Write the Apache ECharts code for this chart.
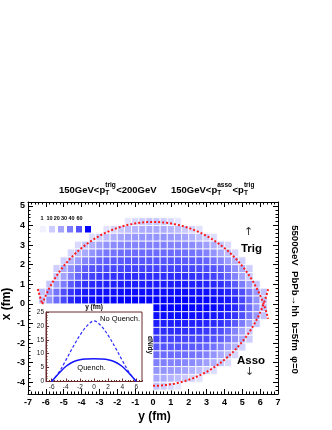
<!DOCTYPE html>
<html>
<head>
<meta charset="utf-8">
<script src="https://cdn.jsdelivr.net/npm/echarts@6/dist/echarts.min.js"></script>
<style>
html,body{margin:0;padding:0;background:#fff;}
#main{width:332px;height:430px;}
</style>
</head>
<body>
<div id="main"></div>
<script>
// 2D histogram, 0.4 fm bins
var binW = 0.4;
var upperYStart = -6.4;   // left edge of first column, upper half
var lowerYStart = 0;      // left edge of first column, lower half
var upperXTop = 4.4;      // top edge of first upper row
var lowerXTop = 0;        // top edge of first lower row

// rows top -> bottom (x from 4.4 down to 0), columns y = -6.4 .. 6.4
var heatUpper = [
    [0,0,0,0,0,0,0,0,0,0,0,0,4,7,10,12,12,10,7,4,0,0,0,0,0,0,0,0,0,0,0,0],
    [0,0,0,0,0,0,0,0,0,5,8,11,14,16,18,19,19,18,16,14,11,8,5,0,0,0,0,0,0,0,0,0],
    [0,0,0,0,0,0,0,6,10,14,17,20,22,23,24,24,24,24,23,22,20,17,14,10,6,0,0,0,0,0,0,0],
    [0,0,0,0,0,7,12,17,21,24,26,27,28,28,29,29,29,29,28,28,27,26,24,21,17,12,7,0,0,0,0,0],
    [0,0,0,0,8,14,19,24,28,31,32,33,33,34,34,34,34,34,34,33,33,32,31,28,24,19,14,8,0,0,0,0],
    [0,0,0,9,16,22,28,32,35,37,38,38,39,39,39,39,39,39,39,39,38,38,37,35,32,28,22,16,9,0,0,0],
    [0,0,10,18,25,32,37,40,41,42,43,43,44,44,44,44,44,44,44,44,43,43,42,41,40,37,32,25,18,10,0,0],
    [0,0,11,20,28,35,41,44,46,47,48,48,49,49,49,49,49,49,49,49,48,48,47,46,44,41,35,28,20,11,0,0],
    [0,12,21,30,38,44,48,50,51,52,52,53,53,53,53,53,53,53,53,53,53,52,52,51,50,48,44,38,30,21,12,0],
    [13,23,32,41,47,51,54,55,56,56,56,57,57,57,57,57,57,57,57,57,57,56,56,56,55,54,51,47,41,32,23,13],
    [13,24,34,43,50,54,56,58,59,59,59,60,60,60,60,60,60,60,60,60,60,59,59,59,58,56,54,50,43,34,24,13]
];
// rows top -> bottom (x from 0 down to -4.4), columns y = 0 .. 6.4
var heatLower = [
    [60,60,60,60,60,59,59,59,58,56,54,50,43,34,24,13],
    [57,57,57,57,57,56,56,56,55,54,51,47,41,32,23,13],
    [53,53,53,53,53,52,52,51,50,48,44,38,30,21,12,0],
    [49,49,49,49,48,48,47,46,44,41,35,28,20,11,0,0],
    [44,44,44,44,43,43,42,41,40,37,32,25,18,10,0,0],
    [39,39,39,39,38,38,37,35,32,28,22,16,9,0,0,0],
    [34,34,34,33,33,32,31,28,24,19,14,8,0,0,0,0],
    [29,29,28,28,27,26,24,21,17,12,7,0,0,0,0,0],
    [24,24,23,22,20,17,14,10,6,0,0,0,0,0,0,0],
    [19,18,16,14,11,8,5,0,0,0,0,0,0,0,0,0],
    [12,10,7,4,0,0,0,0,0,0,0,0,0,0,0,0]
];
var legendLevels = [1, 10, 20, 30, 40, 60];

// inset: dN/dy
var insetY = [-6, -5, -4, -3, -2, -1, 0, 1, 2, 3, 4, 5, 6];
var noQuench = [0, 3.2, 7.6, 12.3, 16.6, 20.0, 21.8, 20.0, 16.6, 12.3, 7.6, 3.2, 0];
var quench = [0, 2.9, 5.4, 7.0, 7.8, 8.1, 8.2, 8.1, 7.8, 7.0, 5.4, 2.9, 0];

// nuclear overlap (Pb radius, impact parameter)
var nucR = 6.68;
var impactB = 5;

var FONT = "'Liberation Sans', Arial, sans-serif";

function colorFor(v) {
    var t = Math.min(1, Math.max(0, v / 60));
    var c = Math.round(246 * (1 - t));
    return 'rgb(' + c + ',' + c + ',255)';
}

var cells = [];
heatUpper.forEach(function(row, r) {
    row.forEach(function(v, c) {
        if (v > 0) cells.push([upperYStart + (c + 0.5) * binW, upperXTop - (r + 0.5) * binW, v]);
    });
});
heatLower.forEach(function(row, r) {
    row.forEach(function(v, c) {
        if (v > 0) cells.push([lowerYStart + (c + 0.5) * binW, lowerXTop - (r + 0.5) * binW, v]);
    });
});

// overlap boundary arcs
function arcUpper(y) { return -impactB / 2 + Math.sqrt(nucR * nucR - y * y); }
function arcLower(y) { return impactB / 2 - Math.sqrt(nucR * nucR - y * y); }
var upperArc = [], lowerArc = [];
for (var y = -6.2; y <= 6.451; y += 0.05) upperArc.push([y, arcUpper(y)]);
for (var y2 = -6.45; y2 <= -6.19; y2 += 0.05) lowerArc.push([y2, arcLower(y2)]);
lowerArc.push(null);
for (var y3 = 0; y3 <= 6.451; y3 += 0.05) lowerArc.push([y3, arcLower(y3)]);

var mainMajorY = [-4, -3, -2, -1, 0, 1, 2, 3, 4, 5];
var insetMajorX = [-6, -4, -2, 0, 2, 4, 6];

function mainX(pos, labels) {
    return {
        type: 'value', gridIndex: 0, position: pos, min: -7, max: 7, interval: 1,
        axisLine: {show: true, onZero: false, lineStyle: {color: '#000', width: 1}},
        axisTick: {show: true, inside: true, length: 5, lineStyle: {color: '#000'}},
        minorTick: {show: true, splitNumber: 5, length: 2.5, lineStyle: {color: '#000'}},
        axisLabel: {show: labels, margin: 4, fontSize: 9, fontWeight: 'bold', color: '#000', fontFamily: FONT},
        splitLine: {show: false}, minorSplitLine: {show: false}
    };
}
function mainYMajor(pos, labels) {
    return {
        type: 'value', gridIndex: 0, position: pos, min: -4.6, max: 5.2,
        axisLine: {show: true, onZero: false, lineStyle: {color: '#000', width: 1}},
        axisTick: {show: true, inside: true, length: 5, customValues: mainMajorY, lineStyle: {color: '#000'}},
        axisLabel: {show: labels, margin: 3, fontSize: 9, fontWeight: 'bold', color: '#000', fontFamily: FONT, customValues: mainMajorY},
        splitLine: {show: false}
    };
}
function mainYMinor(pos) {
    return {
        type: 'value', gridIndex: 0, position: pos, min: -4.6, max: 5.2, interval: 0.2,
        axisLine: {show: false, onZero: false},
        axisTick: {show: true, inside: true, length: 2.5, lineStyle: {color: '#000'}},
        axisLabel: {show: false}, splitLine: {show: false}
    };
}

var insetColor = '#6b2a2a';

var option = {
    backgroundColor: '#fff',
    animation: false,
    grid: [
        {left: 28, top: 202, width: 250, height: 192, outerBoundsMode: 'none', containLabel: false},
        {left: 46, top: 312, width: 96, height: 69.5, outerBoundsMode: 'none', containLabel: false,
         show: true, backgroundColor: '#fff', borderColor: insetColor, borderWidth: 1}
    ],
    xAxis: [
        mainX('bottom', true),
        mainX('top', false),
        {
            type: 'value', gridIndex: 1, position: 'bottom', min: -6.8, max: 6.8,
            axisLine: {show: true, onZero: false, lineStyle: {color: insetColor}},
            axisTick: {show: true, inside: true, length: 3, customValues: insetMajorX, lineStyle: {color: insetColor}},
            axisLabel: {show: true, margin: 2, fontSize: 6.5, color: '#222', fontFamily: FONT, customValues: insetMajorX},
            splitLine: {show: false}
        },
        {
            type: 'value', gridIndex: 1, position: 'bottom', min: -6.8, max: 6.8, interval: 0.4,
            axisLine: {show: false, onZero: false},
            axisTick: {show: true, inside: true, length: 1.5, lineStyle: {color: insetColor}},
            axisLabel: {show: false}, splitLine: {show: false}
        }
    ],
    yAxis: [
        mainYMajor('left', true),
        mainYMinor('left'),
        mainYMajor('right', false),
        mainYMinor('right'),
        {
            type: 'value', gridIndex: 1, position: 'left', min: 0, max: 25, interval: 5,
            axisLine: {show: true, onZero: false, lineStyle: {color: insetColor}},
            axisTick: {show: true, inside: true, length: 3, lineStyle: {color: insetColor}},
            minorTick: {show: true, splitNumber: 5, length: 1.5, lineStyle: {color: insetColor}},
            axisLabel: {show: true, margin: 2, fontSize: 6.5, color: '#222', fontFamily: FONT},
            splitLine: {show: false}, minorSplitLine: {show: false}
        }
    ],
    series: [
        {
            type: 'custom', xAxisIndex: 0, yAxisIndex: 0, z: 2,
            data: cells,
            encode: {x: 0, y: 1},
            renderItem: function(params, api) {
                var yc = api.value(0), xc = api.value(1);
                var a = api.coord([yc - binW / 2, xc + binW / 2]);
                var b = api.coord([yc + binW / 2, xc - binW / 2]);
                return {
                    type: 'rect',
                    shape: {x: a[0], y: a[1], width: b[0] - a[0], height: b[1] - a[1]},
                    style: {fill: colorFor(api.value(2)), stroke: '#fff', lineWidth: 0.8}
                };
            }
        },
        {
            type: 'line', xAxisIndex: 0, yAxisIndex: 0, z: 4, data: upperArc,
            showSymbol: false, symbol: 'none', silent: true,
            lineStyle: {color: '#ff1a1a', width: 2, type: [2, 2]}
        },
        {
            type: 'line', xAxisIndex: 0, yAxisIndex: 0, z: 4, data: lowerArc,
            showSymbol: false, symbol: 'none', silent: true, connectNulls: false,
            lineStyle: {color: '#ff1a1a', width: 2, type: [2, 2]}
        },
        {
            type: 'line', xAxisIndex: 2, yAxisIndex: 4, z: 5,
            data: insetY.map(function(y, i) { return [y, noQuench[i]]; }),
            smooth: 0.35, showSymbol: false, symbol: 'none',
            lineStyle: {color: '#2b2bff', width: 1.2, type: [3, 2]}
        },
        {
            type: 'line', xAxisIndex: 2, yAxisIndex: 4, z: 5,
            data: insetY.map(function(y, i) { return [y, quench[i]]; }),
            smooth: 0.35, showSymbol: false, symbol: 'none',
            lineStyle: {color: '#1515ff', width: 1.5}
        }
    ]
};

// text overlay
var ctx = document.createElement('canvas').getContext('2d');
function textW(s, font) { ctx.font = font; return ctx.measureText(s).width; }
var els = [];
function txt(s, x, y, size, opt) {
    opt = opt || {};
    els.push({
        type: 'text', x: x, y: y, rotation: opt.rot || 0, z: 10,
        style: {
            text: s, fill: opt.color || '#000',
            font: (opt.weight || 'bold') + ' ' + size + 'px ' + (opt.family || FONT),
            align: opt.align || 'center', verticalAlign: 'middle'
        }
    });
}

var bigFont = 9.5, smallFont = 6.5;
function titleRun(x, pieces) {
    pieces.forEach(function(p) {
        if (typeof p === 'string') {
            txt(p, x, 190.5, bigFont, {align: 'left'});
            x += textW(p, 'bold ' + bigFont + 'px ' + FONT);
        } else {
            txt(p.sup, x, 185, smallFont, {align: 'left'});
            txt(p.sub, x, 193.5, smallFont, {align: 'left'});
            x += Math.max(textW(p.sup, 'bold ' + smallFont + 'px ' + FONT), textW(p.sub, 'bold ' + smallFont + 'px ' + FONT)) + 0.5;
        }
    });
}
titleRun(59, ['150GeV<p', {sup: 'trig', sub: 'T'}, '<200GeV']);
titleRun(171, ['150GeV<p', {sup: 'asso', sub: 'T'}, '<p', {sup: 'trig', sub: 'T'}]);

txt('5500GeV  PbPb\u2192hh  b=5fm  \u03c6=0', 295, 299.5, 9.6, {rot: -Math.PI / 2});
txt('x (fm)', 7, 304, 12, {rot: Math.PI / 2});
txt('y (fm)', 154.5, 417, 12);

txt('\u2191', 248.5, 232.5, 11, {weight: 'normal', family: "'DejaVu Sans', sans-serif", color: '#333'});
txt('Trig', 251.5, 248.5, 11.5);
txt('Asso', 251, 361, 11.5);
txt('\u2193', 249.5, 372.5, 11, {weight: 'normal', family: "'DejaVu Sans', sans-serif", color: '#333'});

// colour key
var keyX = [43, 52, 61, 70, 79, 88];
var keyLabelX = [42, 49.5, 56.8, 64, 71.5, 79.5];
legendLevels.forEach(function(v, i) {
    els.push({
        type: 'rect', z: 10,
        shape: {x: keyX[i] - 3, y: 226, width: 6, height: 6.5},
        style: {fill: colorFor(v)}
    });
    txt(String(v), keyLabelX[i], 218, 5.5, {family: "'Liberation Sans Narrow', 'Liberation Sans', sans-serif"});
});

// inset labels
txt('y (fm)', 94, 307.5, 6.5);
txt('dN/dy', 150, 345, 6.5, {rot: -Math.PI / 2});
txt('No Quench.', 120, 319, 7.5, {weight: 'normal'});
txt('Quench.', 91.5, 368, 7.5, {weight: 'normal'});

option.graphic = {elements: els};

var chart = echarts.init(document.getElementById('main'), null, {renderer: 'canvas'});
chart.setOption(option);
</script>
</body>
</html>
